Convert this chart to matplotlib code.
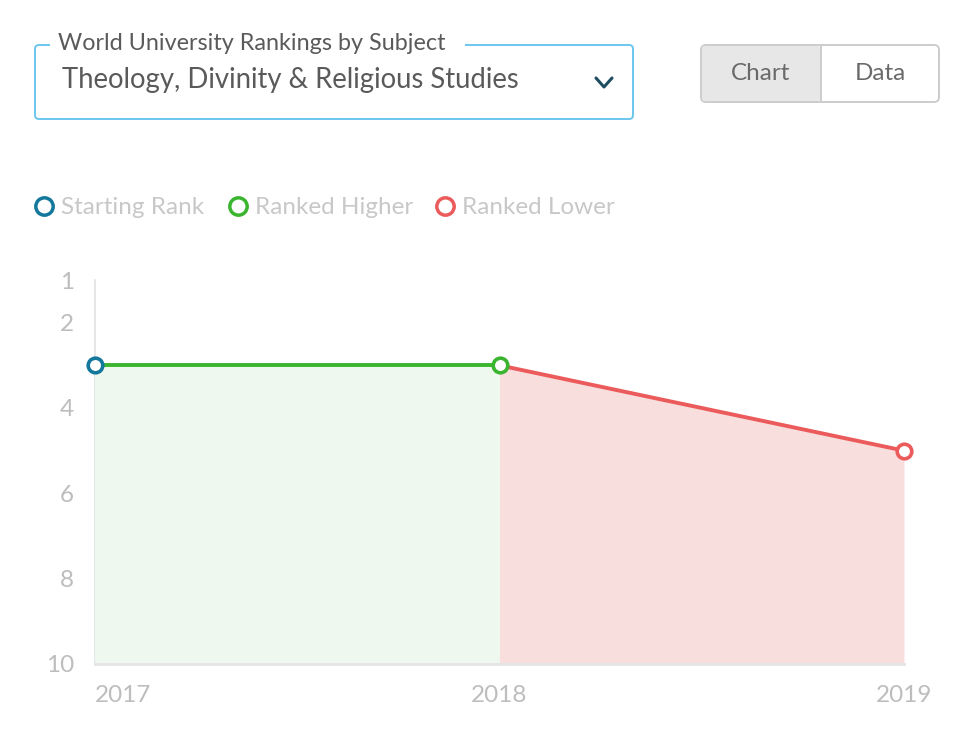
import matplotlib.pyplot as plt
from matplotlib.patches import FancyBboxPatch, Rectangle
import numpy as np

plt.rcParams['font.family'] = ['Lato', 'DejaVu Sans']

# data
years = [2017, 2018, 2019]
ranks = [3, 3, 5]
segment_colors = ['#3bb52f', '#ec5b5b']
fill_colors = ['#eff8ee', '#f9dede']
marker_colors = ['#14789c', '#3bb52f', '#ec5b5b']
y_ticks = [1, 2, 4, 6, 8, 10]
legend_labels = ['Starting Rank', 'Ranked Higher', 'Ranked Lower']

fig = plt.figure(figsize=(9.8, 7.46), dpi=100)

# overlay in pixel coords for the ui bits
bg = fig.add_axes([0, 0, 1, 1])
bg.set_xlim(0, 980)
bg.set_ylim(746, 0)
bg.axis('off')

# dropdown box
bg.add_patch(FancyBboxPatch((35, 45), 598, 74, boxstyle='round,pad=0,rounding_size=4',
                            fc='white', ec='#6cc6ee', lw=1.4))
bg.add_patch(Rectangle((50, 38), 415, 14, fc='white', ec='none'))
bg.text(58, 44, 'World University Rankings by Subject', fontsize=16.8, color='#5a5a5a',
        va='center', ha='left')
bg.text(62, 80, 'Theology, Divinity & Religious Studies', fontsize=19.8, color='#5a5a5a',
        va='center', ha='left')
bg.plot([596, 604, 612], [78, 87, 78], color='#1e4d61', lw=2.2, solid_capstyle='round')

# chart / data toggle
bg.add_patch(FancyBboxPatch((701, 45), 238, 57, boxstyle='round,pad=0,rounding_size=5',
                            fc='white', ec='#cccccc', lw=1.4))
bg.add_patch(FancyBboxPatch((702, 46), 119, 55, boxstyle='round,pad=0,rounding_size=4',
                            fc='#e7e7e7', ec='none'))
bg.plot([821, 821], [45, 102], color='#cccccc', lw=1.4)
bg.text(761, 73, 'Chart', fontsize=17.5, color='#6a6a6a', ha='center', va='center')
bg.text(880, 73, 'Data', fontsize=17.5, color='#6a6a6a', ha='center', va='center')

# legend
leg_x = [44, 238, 445]
for lx, lab, c in zip(leg_x, legend_labels, marker_colors):
    bg.plot(lx, 206, 'o', ms=12.5, mfc='white', mec=c, mew=2.5)
    bg.text(lx + 17, 207, lab, fontsize=17.5, color='#c8c8c8', ha='left', va='center')

# main chart
ax = fig.add_axes([95 / 980, 1 - 664 / 746, 809 / 980, 384 / 746])
ax.set_xlim(2017, 2019)
ax.set_ylim(10, 1)
for i in range(len(years) - 1):
    xs = years[i:i + 2]
    ys = ranks[i:i + 2]
    ax.fill_between(xs, ys, 10, color=fill_colors[i], lw=0, zorder=1)
    ax.plot(xs, ys, color=segment_colors[i], lw=2.8, zorder=2, solid_capstyle='butt')
for x, y, c in zip(years, ranks, marker_colors):
    ax.plot(x, y, 'o', ms=10.5, mfc='white', mec=c, mew=2.6, zorder=3, clip_on=False)

ax.set_xticks(years)
ax.set_xticklabels([str(y) for y in years])
ax.set_yticks(y_ticks)
ax.tick_params(axis='both', length=0, colors='#bdbdbd', labelsize=17.5)
ax.tick_params(axis='y', pad=15)
ax.tick_params(axis='x', pad=15)
xl = ax.get_xticklabels()
xl[0].set_ha('left')
for s in ['top', 'right']:
    ax.spines[s].set_visible(False)
ax.spines['left'].set_color('#e2e2e2')
ax.spines['left'].set_linewidth(1.2)
ax.spines['left'].set_zorder(0.5)
ax.spines['bottom'].set_color('#e4e4e4')
ax.spines['bottom'].set_linewidth(2)
ax.patch.set_alpha(0)

fig.savefig('out.png', dpi=100)
